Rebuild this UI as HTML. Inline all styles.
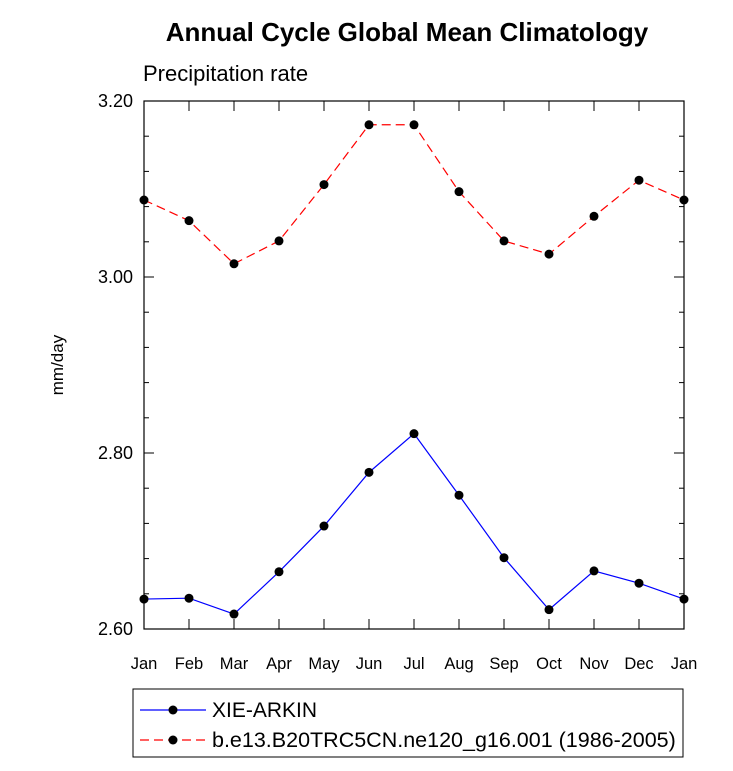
<!DOCTYPE html>
<html><head><meta charset="utf-8"><style>
body{margin:0;background:#fff;font-family:"Liberation Sans",sans-serif}
</style></head><body>
<svg id="c" width="733" height="766" xmlns="http://www.w3.org/2000/svg" font-family="Liberation Sans, sans-serif">
<text x="407" y="41" text-anchor="middle" font-size="26" font-weight="bold">Annual Cycle Global Mean Climatology</text>
<text x="143" y="81" font-size="22">Precipitation rate</text>
<text transform="translate(63,365) rotate(-90)" text-anchor="middle" font-size="17">mm/day</text>
<rect x="144" y="101" width="540" height="528" fill="none" stroke="#000" stroke-width="1.2"/>
<g id="axes"></g><g id="series"></g>
<rect x="133" y="689" width="550" height="68" fill="none" stroke="#000" stroke-width="1"/>
<g>
<line x1="140" y1="710" x2="206" y2="710" stroke="#00f" stroke-width="1.2"/><circle cx="173" cy="710" r="4.5"/>
<text x="212" y="717" font-size="21">XIE-ARKIN</text></g>
<g>
<line x1="140" y1="740" x2="206" y2="740" stroke="#f00" stroke-width="1.2" stroke-dasharray="9,5"/><circle cx="173" cy="740" r="4.5"/>
<text x="212" y="747" font-size="21.5">b.e13.B20TRC5CN.ne120_g16.001 (1986-2005)</text></g>
</svg>
<script>
const months=["Jan","Feb","Mar","Apr","May","Jun","Jul","Aug","Sep","Oct","Nov","Dec","Jan"];
const obsValues=[2.634,2.635,2.617,2.665,2.717,2.778,2.822,2.752,2.681,2.622,2.666,2.652,2.634];
const modelValues=[3.0875,3.064,3.015,3.041,3.105,3.173,3.173,3.097,3.041,3.026,3.069,3.110,3.0875];
const yTicks=[2.60,2.80,3.00,3.20];
const yMin=2.6,yMax=3.2;
const X0=144,X1=684,Y0=629,Y1=101;
const xs=i=>X0+i*(X1-X0)/(months.length-1);
const ys=v=>Y0-(v-yMin)/(yMax-yMin)*(Y0-Y1);
const NS="http://www.w3.org/2000/svg";
function mk(t,a,p){const e=document.createElementNS(NS,t);for(const k in a)e.setAttribute(k,a[k]);p.appendChild(e);return e;}
const ax=document.getElementById('axes'),se=document.getElementById('series');
months.forEach((m,i)=>{const x=xs(i);
 mk('line',{x1:x,y1:Y0,x2:x,y2:Y0-10,stroke:'#000'},ax);
 mk('line',{x1:x,y1:Y1,x2:x,y2:Y1+10,stroke:'#000'},ax);
 const t=mk('text',{x:x,y:669,'text-anchor':'middle','font-size':16.5},ax);t.textContent=m;
 
 
});
for(let v=yMin;v<=yMax+1e-9;v+=0.04){const y=ys(v);
 mk('line',{x1:X0,y1:y,x2:X0+5,y2:y,stroke:'#000'},ax);
 mk('line',{x1:X1,y1:y,x2:X1-5,y2:y,stroke:'#000'},ax);}
yTicks.forEach(v=>{const y=ys(v);
 mk('line',{x1:X0,y1:y,x2:X0+10,y2:y,stroke:'#000'},ax);
 mk('line',{x1:X1,y1:y,x2:X1-10,y2:y,stroke:'#000'},ax);
 const t=mk('text',{x:133,y:y+6,'text-anchor':'end','font-size':18},ax);t.textContent=v.toFixed(2);
 
 
});
function draw(vals,color,dash,name){
 const p=mk('polyline',{points:vals.map((v,i)=>xs(i)+','+ys(v)).join(' '),fill:'none',stroke:color,'stroke-width':1.2},se);
 if(dash)p.setAttribute('stroke-dasharray',dash);
 
 
 vals.forEach((v,i)=>{const c=mk('circle',{cx:xs(i),cy:ys(v),r:4.5},se);
  
  });
}
draw(obsValues,'#00f',null,'xie-arkin');
draw(modelValues,'#f00','9,5','model');
</script>
</body></html>
